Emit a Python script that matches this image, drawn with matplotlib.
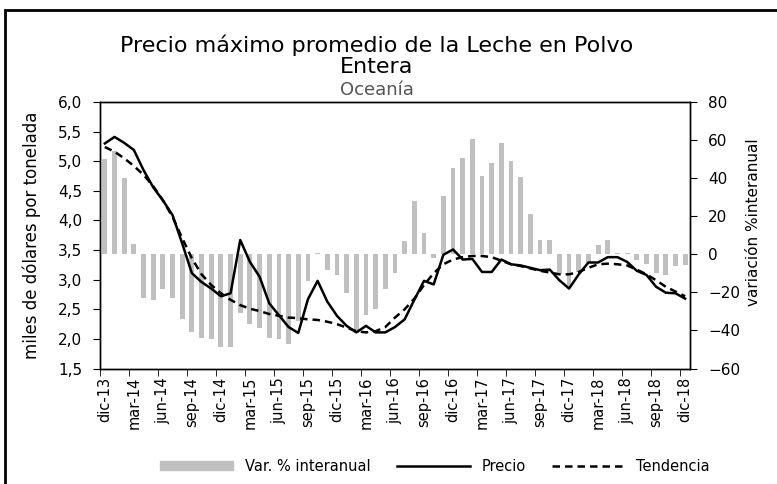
import numpy as np
import matplotlib.pyplot as plt
from matplotlib.patches import Rectangle
from matplotlib.lines import Line2D
from matplotlib.patches import Patch

# meses dic-13 ... dic-18
meses = ['ene', 'feb', 'mar', 'abr', 'may', 'jun', 'jul', 'ago', 'sep', 'oct', 'nov', 'dic']
etiquetas = ['dic-13'] + [f'{m}-{a}' for a in range(14, 19) for m in meses]

# variación % interanual (eje derecho)
variacion = [50, 54, 40, 5.6, -22.8, -24.2, -18.4, -22.8, -34.1, -40.6, -43.8, -44.7,
             -48.5, -48.5, -30.7, -36.4, -38.5, -43.8, -44.7, -47.3, -35.0, -14.0, 0.5,
             -8.3, -10.9, -20.1, -41.2, -31.9, -28.6, -18.4, -9.6, 7.0, 28.0, 11.3, -2.2,
             30.6, 45.2, 50.4, 60.4, 41.1, 48.0, 58.3, 49.0, 40.6, 21.3, 7.5, 7.5, -10.5,
             -17.5, -9.5, -4.4, 4.9, 7.5, 0.8, 0.8, -3.2, -4.9, -10.0, -10.9, -6.1, -5.6]

# precio (miles de USD / t)
precio = [5.30, 5.41, 5.31, 5.19, 4.85, 4.56, 4.34, 4.09, 3.61, 3.11, 2.96, 2.85,
          2.72, 2.77, 3.67, 3.30, 3.05, 2.60, 2.40, 2.20, 2.10, 2.67, 2.98, 2.63,
          2.39, 2.22, 2.11, 2.22, 2.11, 2.11, 2.20, 2.33, 2.66, 2.98, 2.92, 3.42,
          3.51, 3.34, 3.35, 3.13, 3.13, 3.34, 3.26, 3.24, 3.20, 3.16, 3.17, 2.99,
          2.85, 3.09, 3.29, 3.29, 3.38, 3.38, 3.30, 3.15, 3.08, 2.88, 2.78, 2.77, 2.68]

tendencia = [5.24, 5.16, 5.05, 4.92, 4.77, 4.58, 4.34, 4.06, 3.70, 3.36, 3.09, 2.91,
             2.77, 2.66, 2.57, 2.51, 2.47, 2.42, 2.39, 2.36, 2.35, 2.33, 2.32, 2.29,
             2.25, 2.19, 2.13, 2.11, 2.13, 2.20, 2.36, 2.50, 2.68, 2.91, 3.11, 3.26,
             3.34, 3.38, 3.40, 3.40, 3.38, 3.32, 3.26, 3.23, 3.19, 3.15, 3.12, 3.09,
             3.09, 3.13, 3.20, 3.26, 3.27, 3.26, 3.24, 3.17, 3.09, 2.99, 2.88, 2.80, 2.72]

x = np.arange(len(etiquetas))

plt.rcParams['font.family'] = 'DejaVu Sans'

fig = plt.figure(figsize=(7.77, 4.84), dpi=100)
ax = fig.add_axes([0.1287, 0.2386, 0.7593, 0.5507])
ax2 = ax.twinx()

# barras en el eje derecho, detrás de las líneas
ax2.bar(x, variacion, width=0.5, color='#c0c0c0', zorder=1)
ax2.set_ylim(-60, 80)
ax2.set_yticks(range(-60, 81, 20))
ax2.tick_params(axis='y', direction='out', length=5, labelsize=11, pad=8)

ax.set_zorder(ax2.get_zorder() + 1)
ax.patch.set_visible(False)
ax.plot(x, precio, color='black', lw=1.8)
ax.plot(x, tendencia, color='black', lw=1.8, ls=(0, (3, 2)))
ax.set_ylim(1.5, 6.0)
ax.set_yticks(np.arange(1.5, 6.01, 0.5))
ax.set_yticklabels([f'{v:.1f}'.replace('.', ',') for v in np.arange(1.5, 6.01, 0.5)])
ax.tick_params(axis='y', direction='out', length=5, labelsize=11, pad=8)

ax.set_xlim(-0.5, len(x) - 0.5)
ax.set_xticks(x[::3])
ax.set_xticklabels(etiquetas[::3], rotation=90, fontsize=10.5)
ax.set_xticks(np.arange(-0.5, len(x), 3), minor=True)
ax.tick_params(axis='x', which='major', length=0, pad=6)
ax.tick_params(axis='x', which='minor', length=5, direction='out')

for a in (ax, ax2):
    for s in a.spines.values():
        s.set_linewidth(1.0)

ax.set_ylabel('miles de dólares por tonelada', fontsize=12)
ax.yaxis.set_label_coords(-0.10, 0.5)
ax2.set_ylabel('variación %interanual', fontsize=11)
ax2.yaxis.set_label_coords(1.095, 0.55)

fig.text(0.485, 0.885, 'Precio máximo promedio de la Leche en Polvo\nEntera',
         ha='center', va='center', fontsize=16, linespacing=1.05)
fig.text(0.485, 0.815, 'Oceanía', ha='center', va='center', fontsize=13, color='#555555')

handles = [Patch(color='#c0c0c0'),
           Line2D([], [], color='black', lw=1.8),
           Line2D([], [], color='black', lw=1.8, ls=(0, (3, 2)))]
fig.legend(handles, ['Var. % interanual', 'Precio', 'Tendencia'],
           loc='center', bbox_to_anchor=(0.56, 0.037), ncol=3, frameon=False,
           fontsize=10.5, handlelength=5, handleheight=0.6, columnspacing=1.8)

# marco exterior
fig.patches.append(Rectangle((5 / 777, -0.01), 1.02, 1 - 10 / 484 + 0.01,
                             transform=fig.transFigure, fill=False,
                             edgecolor='black', lw=2))

fig.savefig('out.png', dpi=100)
